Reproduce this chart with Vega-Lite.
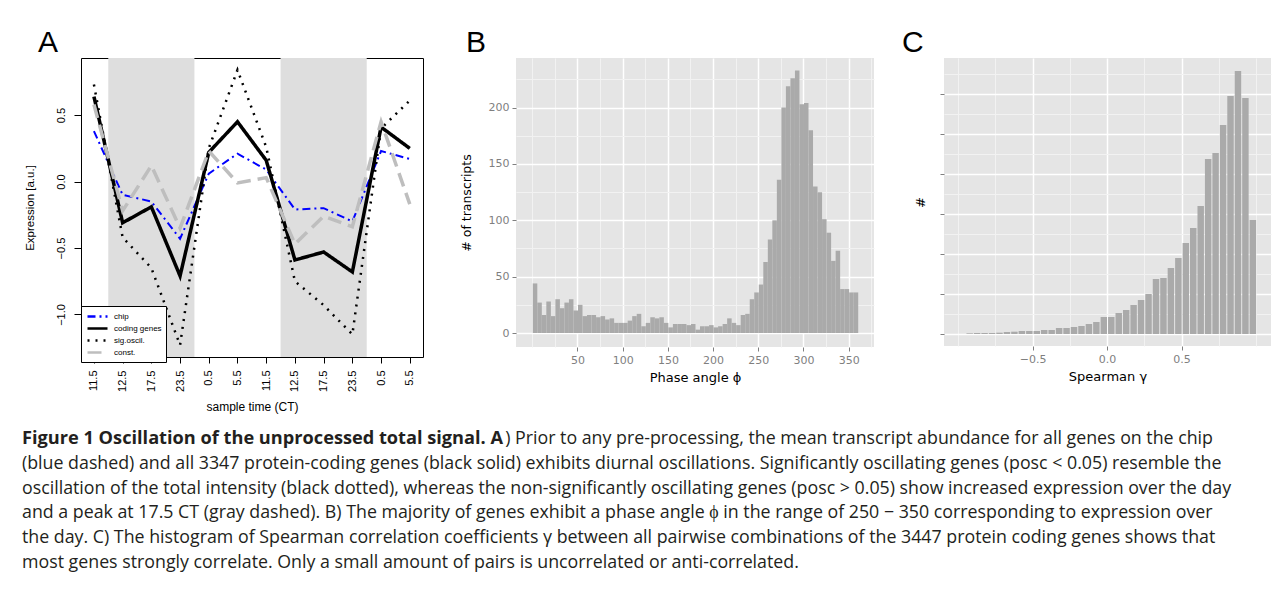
{
  "$schema": "https://vega.github.io/schema/vega-lite/v6.json",
  "background": "white",
  "padding": {"left": 22, "top": 27, "right": 2, "bottom": 2},
  "config": {
    "font": "DejaVu Sans",
    "axis": {"titleFontWeight": "normal", "labelOverlap": false, "labelFlush": false},
    "title": {"fontWeight": "normal"}
  },
  "datasets": {
    "expression": [
      {"series": "chip", "t": 0, "value": 0.38}, {"series": "chip", "t": 1, "value": -0.10}, {"series": "chip", "t": 2, "value": -0.15}, {"series": "chip", "t": 3, "value": -0.43}, {"series": "chip", "t": 4, "value": 0.06}, {"series": "chip", "t": 5, "value": 0.21}, {"series": "chip", "t": 6, "value": 0.09}, {"series": "chip", "t": 7, "value": -0.21}, {"series": "chip", "t": 8, "value": -0.20}, {"series": "chip", "t": 9, "value": -0.30}, {"series": "chip", "t": 10, "value": 0.23}, {"series": "chip", "t": 11, "value": 0.17},
      {"series": "coding genes", "t": 0, "value": 0.64}, {"series": "coding genes", "t": 1, "value": -0.31}, {"series": "coding genes", "t": 2, "value": -0.19}, {"series": "coding genes", "t": 3, "value": -0.71}, {"series": "coding genes", "t": 4, "value": 0.22}, {"series": "coding genes", "t": 5, "value": 0.45}, {"series": "coding genes", "t": 6, "value": 0.16}, {"series": "coding genes", "t": 7, "value": -0.59}, {"series": "coding genes", "t": 8, "value": -0.53}, {"series": "coding genes", "t": 9, "value": -0.68}, {"series": "coding genes", "t": 10, "value": 0.41}, {"series": "coding genes", "t": 11, "value": 0.25},
      {"series": "sig.oscil.", "t": 0, "value": 0.73}, {"series": "sig.oscil.", "t": 1, "value": -0.42}, {"series": "sig.oscil.", "t": 2, "value": -0.65}, {"series": "sig.oscil.", "t": 3, "value": -1.23}, {"series": "sig.oscil.", "t": 4, "value": 0.25}, {"series": "sig.oscil.", "t": 5, "value": 0.84}, {"series": "sig.oscil.", "t": 6, "value": 0.26}, {"series": "sig.oscil.", "t": 7, "value": -0.75}, {"series": "sig.oscil.", "t": 8, "value": -0.93}, {"series": "sig.oscil.", "t": 9, "value": -1.15}, {"series": "sig.oscil.", "t": 10, "value": 0.40}, {"series": "sig.oscil.", "t": 11, "value": 0.61},
      {"series": "const.", "t": 0, "value": 0.58}, {"series": "const.", "t": 1, "value": -0.22}, {"series": "const.", "t": 2, "value": 0.12}, {"series": "const.", "t": 3, "value": -0.35}, {"series": "const.", "t": 4, "value": 0.23}, {"series": "const.", "t": 5, "value": -0.01}, {"series": "const.", "t": 6, "value": 0.03}, {"series": "const.", "t": 7, "value": -0.47}, {"series": "const.", "t": 8, "value": -0.26}, {"series": "const.", "t": 9, "value": -0.34}, {"series": "const.", "t": 10, "value": 0.45}, {"series": "const.", "t": 11, "value": -0.17}
    ],
    "phase": [
      {"phi_start": 0, "phi_end": 5, "transcripts": 44}, {"phi_start": 5, "phi_end": 10, "transcripts": 27}, {"phi_start": 10, "phi_end": 15, "transcripts": 16}, {"phi_start": 15, "phi_end": 20, "transcripts": 28}, {"phi_start": 20, "phi_end": 25, "transcripts": 15}, {"phi_start": 25, "phi_end": 30, "transcripts": 30}, {"phi_start": 30, "phi_end": 35, "transcripts": 22}, {"phi_start": 35, "phi_end": 40, "transcripts": 27}, {"phi_start": 40, "phi_end": 45, "transcripts": 30}, {"phi_start": 45, "phi_end": 50, "transcripts": 20}, {"phi_start": 50, "phi_end": 55, "transcripts": 25}, {"phi_start": 55, "phi_end": 60, "transcripts": 15},
      {"phi_start": 60, "phi_end": 65, "transcripts": 16}, {"phi_start": 65, "phi_end": 70, "transcripts": 16}, {"phi_start": 70, "phi_end": 75, "transcripts": 14}, {"phi_start": 75, "phi_end": 80, "transcripts": 15}, {"phi_start": 80, "phi_end": 85, "transcripts": 12}, {"phi_start": 85, "phi_end": 90, "transcripts": 13}, {"phi_start": 90, "phi_end": 95, "transcripts": 9}, {"phi_start": 95, "phi_end": 100, "transcripts": 9}, {"phi_start": 100, "phi_end": 105, "transcripts": 9}, {"phi_start": 105, "phi_end": 110, "transcripts": 11}, {"phi_start": 110, "phi_end": 115, "transcripts": 15}, {"phi_start": 115, "phi_end": 120, "transcripts": 17},
      {"phi_start": 120, "phi_end": 125, "transcripts": 6}, {"phi_start": 125, "phi_end": 130, "transcripts": 9}, {"phi_start": 130, "phi_end": 135, "transcripts": 14}, {"phi_start": 135, "phi_end": 140, "transcripts": 13}, {"phi_start": 140, "phi_end": 145, "transcripts": 14}, {"phi_start": 145, "phi_end": 150, "transcripts": 9}, {"phi_start": 150, "phi_end": 155, "transcripts": 5}, {"phi_start": 155, "phi_end": 160, "transcripts": 8}, {"phi_start": 160, "phi_end": 165, "transcripts": 8}, {"phi_start": 165, "phi_end": 170, "transcripts": 8}, {"phi_start": 170, "phi_end": 175, "transcripts": 7}, {"phi_start": 175, "phi_end": 180, "transcripts": 8},
      {"phi_start": 180, "phi_end": 185, "transcripts": 3}, {"phi_start": 185, "phi_end": 190, "transcripts": 6}, {"phi_start": 190, "phi_end": 195, "transcripts": 6}, {"phi_start": 195, "phi_end": 200, "transcripts": 7}, {"phi_start": 200, "phi_end": 205, "transcripts": 5}, {"phi_start": 205, "phi_end": 210, "transcripts": 6}, {"phi_start": 210, "phi_end": 215, "transcripts": 8}, {"phi_start": 215, "phi_end": 220, "transcripts": 13}, {"phi_start": 220, "phi_end": 225, "transcripts": 9}, {"phi_start": 225, "phi_end": 230, "transcripts": 7}, {"phi_start": 230, "phi_end": 235, "transcripts": 16}, {"phi_start": 235, "phi_end": 240, "transcripts": 17},
      {"phi_start": 240, "phi_end": 245, "transcripts": 30}, {"phi_start": 245, "phi_end": 250, "transcripts": 36}, {"phi_start": 250, "phi_end": 255, "transcripts": 43}, {"phi_start": 255, "phi_end": 260, "transcripts": 63}, {"phi_start": 260, "phi_end": 265, "transcripts": 83}, {"phi_start": 265, "phi_end": 270, "transcripts": 100}, {"phi_start": 270, "phi_end": 275, "transcripts": 136}, {"phi_start": 275, "phi_end": 280, "transcripts": 200}, {"phi_start": 280, "phi_end": 285, "transcripts": 219}, {"phi_start": 285, "phi_end": 290, "transcripts": 226}, {"phi_start": 290, "phi_end": 295, "transcripts": 233}, {"phi_start": 295, "phi_end": 300, "transcripts": 203},
      {"phi_start": 300, "phi_end": 305, "transcripts": 204}, {"phi_start": 305, "phi_end": 310, "transcripts": 180}, {"phi_start": 310, "phi_end": 315, "transcripts": 130}, {"phi_start": 315, "phi_end": 320, "transcripts": 125}, {"phi_start": 320, "phi_end": 325, "transcripts": 101}, {"phi_start": 325, "phi_end": 330, "transcripts": 89}, {"phi_start": 330, "phi_end": 335, "transcripts": 64}, {"phi_start": 335, "phi_end": 340, "transcripts": 73}, {"phi_start": 340, "phi_end": 345, "transcripts": 39}, {"phi_start": 345, "phi_end": 350, "transcripts": 39}, {"phi_start": 350, "phi_end": 355, "transcripts": 36}, {"phi_start": 355, "phi_end": 360, "transcripts": 36}
    ],
    "spearman": [
      {"g_start": -0.95, "g_end": -0.90, "pairs": 170}, {"g_start": -0.90, "g_end": -0.85, "pairs": 250}, {"g_start": -0.85, "g_end": -0.80, "pairs": 250}, {"g_start": -0.80, "g_end": -0.75, "pairs": 250}, {"g_start": -0.75, "g_end": -0.70, "pairs": 330}, {"g_start": -0.70, "g_end": -0.65, "pairs": 500}, {"g_start": -0.65, "g_end": -0.60, "pairs": 580}, {"g_start": -0.60, "g_end": -0.55, "pairs": 750}, {"g_start": -0.55, "g_end": -0.50, "pairs": 750}, {"g_start": -0.50, "g_end": -0.45, "pairs": 750},
      {"g_start": -0.45, "g_end": -0.40, "pairs": 1000}, {"g_start": -0.40, "g_end": -0.35, "pairs": 1000}, {"g_start": -0.35, "g_end": -0.30, "pairs": 1500}, {"g_start": -0.30, "g_end": -0.25, "pairs": 1500}, {"g_start": -0.25, "g_end": -0.20, "pairs": 1750}, {"g_start": -0.20, "g_end": -0.15, "pairs": 2000}, {"g_start": -0.15, "g_end": -0.10, "pairs": 2500}, {"g_start": -0.10, "g_end": -0.05, "pairs": 3000}, {"g_start": -0.05, "g_end": 0.00, "pairs": 4250}, {"g_start": 0.00, "g_end": 0.05, "pairs": 4250},
      {"g_start": 0.05, "g_end": 0.10, "pairs": 5250}, {"g_start": 0.10, "g_end": 0.15, "pairs": 6000}, {"g_start": 0.15, "g_end": 0.20, "pairs": 7250}, {"g_start": 0.20, "g_end": 0.25, "pairs": 8500}, {"g_start": 0.25, "g_end": 0.30, "pairs": 10000}, {"g_start": 0.30, "g_end": 0.35, "pairs": 13750}, {"g_start": 0.35, "g_end": 0.40, "pairs": 14000}, {"g_start": 0.40, "g_end": 0.45, "pairs": 16500}, {"g_start": 0.45, "g_end": 0.50, "pairs": 19000}, {"g_start": 0.50, "g_end": 0.55, "pairs": 22750},
      {"g_start": 0.55, "g_end": 0.60, "pairs": 26500}, {"g_start": 0.60, "g_end": 0.65, "pairs": 32000}, {"g_start": 0.65, "g_end": 0.70, "pairs": 43750}, {"g_start": 0.70, "g_end": 0.75, "pairs": 45250}, {"g_start": 0.75, "g_end": 0.80, "pairs": 52250}, {"g_start": 0.80, "g_end": 0.85, "pairs": 59500}, {"g_start": 0.85, "g_end": 0.90, "pairs": 65750}, {"g_start": 0.90, "g_end": 0.95, "pairs": 59000}, {"g_start": 0.95, "g_end": 1.00, "pairs": 28500}
    ],
    "caption": [
      {"line": 1, "part": "heading", "text": "Figure 1 Oscillation of the unprocessed total signal. A"},
      {"line": 1, "part": "tail", "text": ") Prior to any pre-processing, the mean transcript abundance for all genes on the chip"},
      {"line": 2, "part": "body", "text": "(blue dashed) and all 3347 protein-coding genes (black solid) exhibits diurnal oscillations. Significantly oscillating genes (posc < 0.05) resemble the"},
      {"line": 3, "part": "body", "text": "oscillation of the total intensity (black dotted), whereas the non-significantly oscillating genes (posc > 0.05) show increased expression over the day"},
      {"line": 4, "part": "body", "text": "and a peak at 17.5 CT (gray dashed). B) The majority of genes exhibit a phase angle ϕ in the range of 250 − 350 corresponding to expression over"},
      {"line": 5, "part": "body", "text": "the day. C) The histogram of Spearman correlation coefficients γ between all pairwise combinations of the 3447 protein coding genes shows that"},
      {"line": 6, "part": "body", "text": "most genes strongly correlate. Only a small amount of pairs is uncorrelated or anti-correlated."}
    ]
  },
  "spacing": 16,
  "align": "none",
  "vconcat": [
    {
      "spacing": 36,
      "hconcat": [
        {
          "width": 342,
          "height": 299,
          "view": {"fill": "white", "stroke": "black", "strokeWidth": 1},
          "title": {"text": "A", "anchor": "start", "frame": "group", "dx": -43, "offset": 0, "fontSize": 30, "font": "Liberation Sans", "fontWeight": "normal", "color": "black"},
          "encoding": {
            "x": {"field": "t", "type": "quantitative", "scale": {"domain": [-0.45, 11.46], "nice": false, "zero": false},
              "axis": {"title": "sample time (CT)", "values": [0,1,2,3,4,5,6,7,8,9,10,11], "labelExpr": "['11.5','12.5','17.5','23.5','0.5','5.5','11.5','12.5','17.5','23.5','0.5','5.5'][datum.value]", "labelOverlap": false, "labelAngle": -90, "labelAlign": "right", "labelBaseline": "middle", "labelPadding": 7, "labelFont": "Liberation Sans", "labelFontSize": 11, "labelColor": "black", "tickColor": "black", "tickSize": 6, "domain": false, "grid": false, "titleFont": "Liberation Sans", "titleFontSize": 12, "titleColor": "black", "titlePadding": 10}}
          },
          "layer": [
            {
              "data": {"values": [{"t": 0.5, "t_end": 3.5}, {"t": 6.5, "t_end": 9.5}]},
              "mark": {"type": "rect", "color": "#dedede"},
              "encoding": {"x2": {"field": "t_end"}}
            },
            {
              "data": {"name": "expression"},
              "transform": [{"filter": "datum.series === 'chip'"}],
              "mark": {"type": "line", "strokeWidth": 2},
              "encoding": {
                "y": {"field": "value", "type": "quantitative", "scale": {"domain": [-1.32, 0.93], "nice": false, "zero": false},
                  "axis": {"title": "Expression [a.u.]", "values": [-1, -0.5, 0, 0.5], "format": ".1f", "labelOverlap": false, "labelAngle": -90, "labelAlign": "center", "labelBaseline": "bottom", "labelPadding": 8, "labelFont": "Liberation Sans", "labelFontSize": 11, "labelColor": "black", "tickColor": "black", "tickSize": 7, "domain": false, "grid": false, "titleFont": "Liberation Sans", "titleFontSize": 11.5, "titleColor": "black", "titlePadding": 20}},
                "color": {"field": "series", "type": "nominal", "scale": {"domain": ["chip", "coding genes", "sig.oscil.", "const."], "range": ["#0000ff", "#000000", "#000000", "#bebebe"]},
                  "legend": {"title": null, "orient": "none", "legendX": 0, "legendY": 248, "strokeColor": "black", "fillColor": "white", "padding": 4, "symbolType": "M-2,0L2,0", "symbolSize": 100, "symbolOffset": 6, "symbolStrokeWidth": 2.5, "labelFont": "Liberation Sans", "labelFontSize": 8, "labelColor": "black", "labelOffset": 10, "rowPadding": 0, "cornerRadius": 0}},
                "strokeDash": {"field": "series", "type": "nominal", "scale": {"domain": ["chip", "coding genes", "sig.oscil.", "const."], "range": [[8, 4, 2, 4], [1, 0], [2, 6], [14, 7]]},
                  "legend": {"title": null, "orient": "none", "legendX": 0, "legendY": 248, "strokeColor": "black", "fillColor": "white", "padding": 4, "symbolType": "M-2,0L2,0", "symbolSize": 100, "symbolOffset": 6, "symbolStrokeWidth": 2.5, "labelFont": "Liberation Sans", "labelFontSize": 8, "labelColor": "black", "labelOffset": 10, "rowPadding": 0, "cornerRadius": 0}}
              }
            },
            {
              "data": {"name": "expression"},
              "transform": [{"filter": "datum.series === 'coding genes'"}],
              "mark": {"type": "line", "strokeWidth": 3.5},
              "encoding": {
                "y": {"field": "value", "type": "quantitative"},
                "color": {"field": "series", "type": "nominal"},
                "strokeDash": {"field": "series", "type": "nominal"}
              }
            },
            {
              "data": {"name": "expression"},
              "transform": [{"filter": "datum.series === 'sig.oscil.'"}],
              "mark": {"type": "line", "strokeWidth": 2.5},
              "encoding": {
                "y": {"field": "value", "type": "quantitative"},
                "color": {"field": "series", "type": "nominal"},
                "strokeDash": {"field": "series", "type": "nominal"}
              }
            },
            {
              "data": {"name": "expression"},
              "transform": [{"filter": "datum.series === 'const.'"}],
              "mark": {"type": "line", "strokeWidth": 3.5},
              "encoding": {
                "y": {"field": "value", "type": "quantitative"},
                "color": {"field": "series", "type": "nominal"},
                "strokeDash": {"field": "series", "type": "nominal"}
              }
            }
          ]
        },
        {
          "spacing": 28,
          "hconcat": [
            {
              "width": 358,
              "height": 289,
              "view": {"fill": "#e5e5e5", "stroke": null},
              "title": {"text": "B", "anchor": "start", "frame": "group", "dx": -50, "offset": 0, "fontSize": 30, "font": "Liberation Sans", "fontWeight": "normal", "color": "black"},
              "data": {"name": "phase"},
              "mark": {"type": "bar", "color": "#aaaaaa", "binSpacing": 0},
              "encoding": {
                "x": {"field": "phi_start", "type": "quantitative", "bin": {"binned": true}, "scale": {"domain": [-18, 378], "nice": false, "zero": false},
                  "axis": {"title": "Phase angle ϕ", "values": [0,25,50,75,100,125,150,175,200,225,250,275,300,325,350,375], "labelOverlap": false, "labelExpr": "(datum.value % 50 === 0 && datum.value > 0) ? datum.label : ''",
                    "gridColor": {"condition": {"test": "datum.value % 50 === 0 && datum.value > 0", "value": "#ffffff"}, "value": "#f2f2f2"},
                    "gridWidth": {"condition": {"test": "datum.value % 50 === 0 && datum.value > 0", "value": 1.5}, "value": 1},
                    "tickColor": {"condition": {"test": "datum.value % 50 === 0 && datum.value > 0", "value": "#7f7f7f"}, "value": "transparent"},
                    "grid": true, "domain": false, "tickSize": 4, "labelColor": "#7f7f7f", "labelFontSize": 11, "labelPadding": 3, "titleFontSize": 13, "titleColor": "black", "titlePadding": 6}},
                "x2": {"field": "phi_end"},
                "y": {"field": "transcripts", "type": "quantitative", "scale": {"domain": [-12.4, 244], "nice": false, "zero": false},
                  "axis": {"title": "# of transcripts", "values": [0,25,50,75,100,125,150,175,200,225], "labelOverlap": false, "labelExpr": "datum.value % 50 === 0 ? datum.label : ''",
                    "gridColor": {"condition": {"test": "datum.value % 50 === 0", "value": "#ffffff"}, "value": "#f2f2f2"},
                    "gridWidth": {"condition": {"test": "datum.value % 50 === 0", "value": 1.5}, "value": 1},
                    "tickColor": {"condition": {"test": "datum.value % 50 === 0", "value": "#7f7f7f"}, "value": "transparent"},
                    "grid": true, "domain": false, "tickSize": 4, "labelColor": "#7f7f7f", "labelFontSize": 11, "labelPadding": 3, "titleFontSize": 12.5, "titleColor": "black", "titlePadding": 15}}
              }
            },
            {
              "width": 327,
              "height": 288,
              "view": {"fill": "#e5e5e5", "stroke": null},
              "title": {"text": "C", "anchor": "start", "frame": "group", "dx": -42, "offset": 0, "fontSize": 30, "font": "Liberation Sans", "fontWeight": "normal", "color": "black"},
              "data": {"name": "spearman"},
              "mark": {"type": "bar", "color": "#aaaaaa", "binSpacing": 1},
              "encoding": {
                "x": {"field": "g_start", "type": "quantitative", "bin": {"binned": true}, "scale": {"domain": [-1.094, 1.1], "nice": false, "zero": false},
                  "axis": {"title": "Spearman γ", "values": [-1, -0.75, -0.5, -0.25, 0, 0.25, 0.5, 0.75, 1], "format": ".1f", "labelOverlap": false, "labelExpr": "(datum.value === 0 || abs(datum.value) === 0.5) ? datum.label : ''",
                    "gridColor": {"condition": {"test": "datum.value === 0 || abs(datum.value) === 0.5", "value": "#ffffff"}, "value": "#f2f2f2"},
                    "gridWidth": {"condition": {"test": "datum.value === 0 || abs(datum.value) === 0.5", "value": 1.5}, "value": 1},
                    "tickColor": {"condition": {"test": "datum.value === 0 || abs(datum.value) === 0.5", "value": "#7f7f7f"}, "value": "transparent"},
                    "grid": true, "domain": false, "tickSize": 4, "labelColor": "#7f7f7f", "labelFontSize": 11, "labelPadding": 3, "titleFontSize": 13, "titleColor": "black", "titlePadding": 6}},
                "x2": {"field": "g_end"},
                "y": {"field": "pairs", "type": "quantitative", "scale": {"domain": [-3000, 69000], "nice": false, "zero": false},
                  "axis": {"title": "#", "values": [0,5000,10000,15000,20000,25000,30000,35000,40000,45000,50000,55000,60000,65000], "labels": false,
                    "gridColor": {"condition": {"test": "datum.value % 10000 === 0", "value": "#ffffff"}, "value": "#f2f2f2"},
                    "gridWidth": {"condition": {"test": "datum.value % 10000 === 0", "value": 1.5}, "value": 1},
                    "tickColor": {"condition": {"test": "datum.value % 10000 === 0", "value": "#7f7f7f"}, "value": "transparent"},
                    "grid": true, "domain": false, "tickSize": 4, "titleFontSize": 13, "titleColor": "black", "titlePadding": 12}}
              }
            }
          ]
        }
      ]
    },
    {
      "width": 1191,
      "height": 124,
      "view": {"stroke": null},
      "data": {"name": "caption"},
      "encoding": {
        "y": {"field": "line", "type": "quantitative", "scale": {"domain": [1, 6], "reverse": true, "nice": false, "zero": false}, "axis": null},
        "text": {"field": "text", "type": "nominal"}
      },
      "layer": [
        {"transform": [{"filter": "datum.part === 'heading'"}], "mark": {"type": "text", "align": "left", "baseline": "middle", "dx": -59, "font": "Open Sans", "fontSize": 18.2, "fontWeight": "bold", "color": "#231f20"},
          "encoding": {"x": {"datum": 0, "type": "quantitative", "scale": {"domain": [0, 1], "nice": false, "zero": false}, "axis": null}}},
        {"transform": [{"filter": "datum.part === 'body'"}], "mark": {"type": "text", "align": "left", "baseline": "middle", "dx": -59, "font": "Open Sans", "fontSize": 17.8, "color": "#231f20"},
          "encoding": {"x": {"datum": 0, "type": "quantitative", "axis": null}}},
        {"transform": [{"filter": "datum.part === 'tail'"}], "mark": {"type": "text", "align": "right", "baseline": "middle", "dx": -59, "font": "Open Sans", "fontSize": 17.8, "color": "#231f20"},
          "encoding": {"x": {"datum": 1, "type": "quantitative", "axis": null}}}
      ]
    }
  ]
}
